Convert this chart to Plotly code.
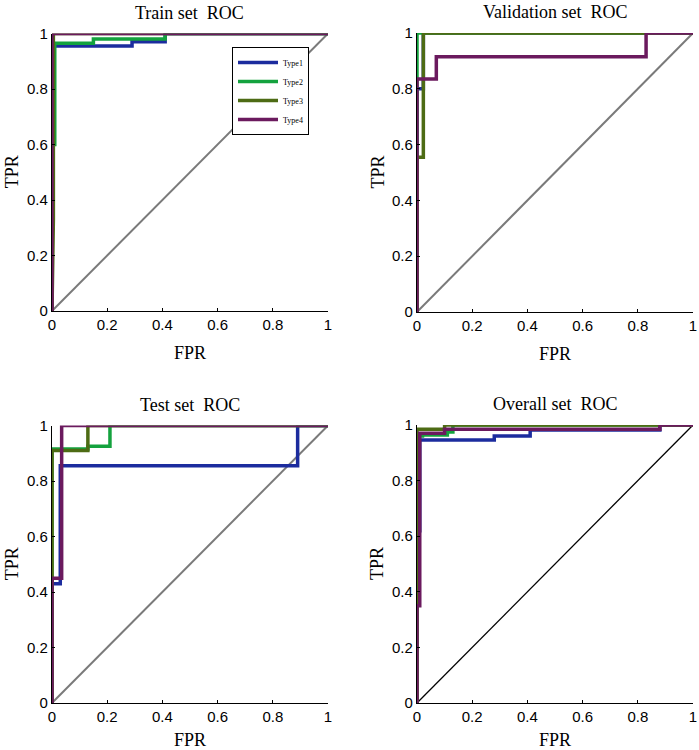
import plotly.graph_objects as go

# ROC corner points (fpr, tpr) for each set and type
train_fpr = {
    'Type1': [0, 0, 0.01, 0.29, 0.29, 0.41, 0.41, 1],
    'Type2': [0, 0, 0.01, 0.01, 0.15, 0.15, 0.41, 0.41, 1],
    'Type3': [0, 0.005, 0.005, 1],
    'Type4': [0, 0, 1],
}
train_tpr = {
    'Type1': [0, 0.955, 0.955, 0.955, 0.97, 0.97, 1, 1],
    'Type2': [0, 0.6, 0.6, 0.965, 0.965, 0.98, 0.98, 1, 1],
    'Type3': [0, 0.33, 1, 1],
    'Type4': [0, 1, 1],
}

val_fpr = {
    'Type1': [0, 0, 0.023, 0.023, 1],
    'Type2': [0, 0, 0, 1],
    'Type3': [0, 0, 0.023, 0.023, 1],
    'Type4': [0, 0, 0.07, 0.07, 0.83, 0.83, 1],
}
val_tpr = {
    'Type1': [0, 0.8, 0.8, 1, 1],
    'Type2': [0, 0.84, 1, 1],
    'Type3': [0, 0.555, 0.555, 1, 1],
    'Type4': [0, 0.835, 0.835, 0.915, 0.915, 1, 1],
}

test_fpr = {
    'Type1': [0, 0, 0.03, 0.03, 0.89, 0.89, 1],
    'Type2': [0, 0, 0.13, 0.13, 0.21, 0.21, 1],
    'Type3': [0, 0, 0.13, 0.13, 1],
    'Type4': [0, 0, 0.035, 0.035, 1],
}
test_tpr = {
    'Type1': [0, 0.43, 0.43, 0.855, 0.855, 1, 1],
    'Type2': [0, 0.915, 0.915, 0.925, 0.925, 1, 1],
    'Type3': [0, 0.91, 0.91, 1, 1],
    'Type4': [0, 0.45, 0.45, 1, 1],
}

all_fpr = {
    'Type1': [0, 0, 0.01, 0.01, 0.28, 0.28, 0.41, 0.41, 0.88, 0.88, 1],
    'Type2': [0, 0, 0.02, 0.02, 0.11, 0.11, 0.13, 0.13, 1],
    'Type3': [0, 0, 0.1, 0.1, 1],
    'Type4': [0, 0, 0.01, 0.01, 0.1, 0.1, 0.88, 0.88, 1],
}
all_tpr = {
    'Type1': [0, 0.62, 0.62, 0.946, 0.946, 0.96, 0.96, 0.982, 0.982, 1, 1],
    'Type2': [0, 0.96, 0.96, 0.964, 0.964, 0.975, 0.975, 1, 1],
    'Type3': [0, 0.985, 0.985, 1, 1],
    'Type4': [0, 0.35, 0.35, 0.97, 0.97, 0.985, 0.985, 1, 1],
}

types = ['Type1', 'Type2', 'Type3', 'Type4']
colors = {'Type1': '#1c2c9e', 'Type2': '#14a23e', 'Type3': '#4d6b14', 'Type4': '#6b1a5e'}

panels = [
    ('Train set  ROC', train_fpr, train_tpr),
    ('Validation set  ROC', val_fpr, val_tpr),
    ('Test set  ROC', test_fpr, test_tpr),
    ('Overall set  ROC', all_fpr, all_tpr),
]

W, H = 699, 750


def fx(p):
    return p / W


def fy(p):
    return 1 - p / H


# panel boxes in pixels (left, right, top, bottom)
boxes = [
    (52, 328, 33.5, 311),
    (417, 693, 33, 312),
    (52, 328, 425.5, 703),
    (417, 693, 425, 703),
]
fpr_gap = [42, 42, 37, 37]

fig = go.Figure()
serif = 'Liberation Serif'
sans = 'Liberation Sans'

for i, (title, fpr, tpr) in enumerate(panels):
    n = '' if i == 0 else str(i + 1)
    xa, ya = 'x' + n, 'y' + n
    diag_color = 'black' if i == 3 else '#7a7a7a'
    fig.add_trace(go.Scatter(x=[0, 1], y=[0, 1], mode='lines', xaxis=xa, yaxis=ya,
                             line=dict(color=diag_color, width=1.3 if i == 3 else 2),
                             showlegend=False, hoverinfo='skip'))
    for t in types:
        fig.add_trace(go.Scatter(x=fpr[t], y=tpr[t], mode='lines', name=t,
                                 xaxis=xa, yaxis=ya, legendgroup=t,
                                 line=dict(color=colors[t], width=3.5),
                                 showlegend=(i == 0)))
    left, right, top, bottom = boxes[i]
    axis_common = dict(range=[0, 1], showline=True, linecolor='black', linewidth=1.2,
                       ticks='inside', ticklen=3, tickcolor='black', showgrid=False,
                       zeroline=False, mirror=False, automargin=False,
                       tickvals=[0, 0.2, 0.4, 0.6, 0.8, 1],
                       ticktext=['0', '0.2', '0.4', '0.6', '0.8', '1'],
                       tickfont=dict(family=sans, size=15, color='black'))
    fig.layout['xaxis' + n] = dict(domain=[fx(left), fx(right)], anchor=ya, **axis_common)
    fig.layout['yaxis' + n] = dict(domain=[fy(bottom), fy(top)], anchor=xa, **axis_common)
    xc = fx((left + right) / 2)
    fig.add_annotation(text=title, x=xc, y=fy(top - 21), xref='paper', yref='paper',
                       showarrow=False, xanchor='center', yanchor='middle',
                       font=dict(family=serif, size=18, color='black'))
    fig.add_annotation(text='FPR', x=xc, y=fy(bottom + fpr_gap[i]), xref='paper', yref='paper',
                       showarrow=False, xanchor='center', yanchor='middle',
                       font=dict(family=serif, size=18, color='black'))
    fig.add_annotation(text='TPR', x=fx(left - 40), y=fy((top + bottom) / 2),
                       xref='paper', yref='paper',
                       showarrow=False, textangle=-90, xanchor='center', yanchor='middle',
                       font=dict(family=serif, size=18, color='black'))

fig.update_layout(
    width=W, height=H,
    margin=dict(l=0, r=0, t=0, b=0, autoexpand=False),
    plot_bgcolor='white', paper_bgcolor='white',
    legend=dict(x=fx(232), y=fy(47), xanchor='left', yanchor='top',
                bgcolor='white', bordercolor='black', borderwidth=1,
                font=dict(family=serif, size=8, color='black'),
                tracegroupgap=0, itemwidth=40),
)

# drop the default body margin so the figure sits at the page corner
fig.write_html('out.html', config={'displayModeBar': False},
               post_script="document.body.style.margin='0';")
